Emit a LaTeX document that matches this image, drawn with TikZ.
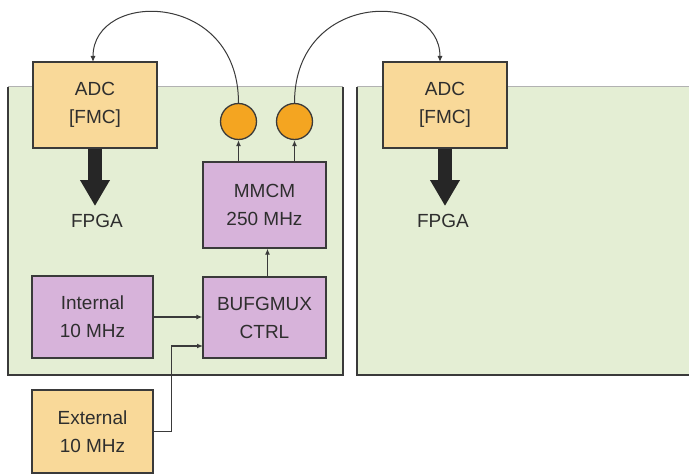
\documentclass[tikz,border=0pt]{standalone}
\usepackage{fontspec}
\setmainfont{Liberation Sans}
\usetikzlibrary{arrows.meta,calc}
\definecolor{panel}{HTML}{E4EED4}
\definecolor{adcfill}{HTML}{F9D999}
\definecolor{lilac}{HTML}{D7B3DA}
\definecolor{dotfill}{HTML}{F4A521}
\definecolor{edge}{HTML}{3A3A3A}
\definecolor{txt}{HTML}{2E2E2E}
\begin{document}
\begin{tikzpicture}[x=1pt,y=-1pt,
  box/.style={draw=edge, line width=1.3pt, align=center, inner sep=0pt,
    text=txt, font=\fontsize{19}{28}\selectfont},
  orangebox/.style={box, fill=adcfill},
  purplebox/.style={box, fill=lilac},
  dotnode/.style={circle, draw=edge, line width=1.3pt, fill=dotfill, minimum size=36pt, inner sep=0pt},
  lbl/.style={text=txt, font=\fontsize{19}{28}\selectfont, inner sep=0pt},
  wire/.style={draw=edge, line width=1.2pt, -{Latex[length=6pt,width=5pt]}},
  arc/.style={draw=edge, line width=1pt, -{Latex[length=6pt,width=5pt]}},
  fat/.style={draw=black!85, line width=14pt, -{Triangle[width=28pt,length=26pt]}, shorten >=8pt}
]
\useasboundingbox (0,0) rectangle (689,476);
\fill[white] (0,0) rectangle (689,476);

% panels
\fill[panel] (8,87) rectangle (343,375);
\draw[gray!60, line width=1pt] (8,87) -- (343,87);
\draw[edge, line width=1.4pt] (8,87) -- (8,375) -- (343,375) -- (343,87);
\fill[panel] (357,87) rectangle (700,375);
\draw[gray!60, line width=1pt] (357,87) -- (700,87);
\draw[edge, line width=1.4pt] (357,87) -- (357,375) -- (700,375);

% boxes
\node[orangebox, minimum width=124pt, minimum height=86pt] (adcL) at (95,105) {ADC\\{[FMC]}};
\node[orangebox, minimum width=124pt, minimum height=86pt] (adcR) at (445,105) {ADC\\{[FMC]}};
\node[purplebox, minimum width=123pt, minimum height=86pt] (mmcm) at (264.5,205) {MMCM\\250 MHz};
\node[purplebox, minimum width=123pt, minimum height=81pt] (bufg) at (264.5,317.5) {BUFGMUX\\CTRL};
\node[purplebox, minimum width=121pt, minimum height=82pt] (int) at (92.5,317) {Internal\\10 MHz};
\node[orangebox, minimum width=121pt, minimum height=83pt] (ext) at (92.5,431.5) {External\\10 MHz};

\node[dotnode] (c1) at (238.5,121.5) {};
\node[dotnode] (c2) at (294.5,121.5) {};

\node[lbl] (fpgaL) at (97,221) {FPGA};
\node[lbl] (fpgaR) at (443,221) {FPGA};

% fat arrows
\draw[fat] (adcL.south) -- (fpgaL.north -| adcL.south);
\draw[fat] (adcR.south) -- (fpgaR.north -| adcR.south);

% wires
\draw[wire] (mmcm.north -| c1.south) -- (c1.south);
\draw[wire] (mmcm.north -| c2.south) -- (c2.south);
\draw[wire] ($(bufg.north)+(3,0)$) -- ($(mmcm.south)+(3,0)$);
\draw[wire] (int.east) -- (int.east -| bufg.west);
\coordinate (in2) at (203,346);
\draw[wire] (ext.east) -- ++(18,0) |- (in2);

% arcs
\coordinate (tL) at (93,62);
\coordinate (tR) at (440,62);
\draw[arc] (c1.north) .. controls (238.5,-10) and (93,-10) .. (tL);
\draw[arc] (c2.north) .. controls (294.5,-10) and (440,-10) .. (tR);
\end{tikzpicture}
\end{document}
